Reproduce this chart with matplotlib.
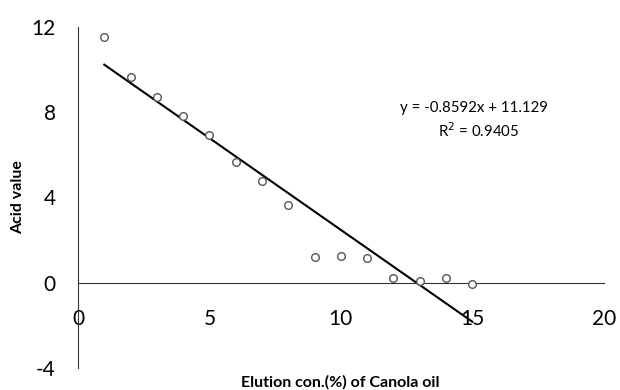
import numpy as np
import matplotlib
matplotlib.use('Agg')
import matplotlib.pyplot as plt

plt.rcParams['font.family'] = ['Lato', 'DejaVu Sans']
plt.rcParams['axes.unicode_minus'] = False

# Concentration d'elution et indice d'acide
conc = [1, 2, 3, 4, 5, 6, 7, 8, 9, 10, 11, 12, 13, 14, 15]
acid = [11.55, 9.67, 8.73, 7.84, 6.95, 5.68, 4.79, 3.66, 1.22, 1.27, 1.17, 0.23, 0.09, 0.23, -0.05]

xticks = [0, 5, 10, 15, 20]
yticks = [-4, 0, 4, 8, 12]

fig = plt.figure(figsize=(6.2, 3.9), dpi=100)
ax = fig.add_axes([0.1258, 0.0564, 0.848, 0.8744])

ax.plot(conc, acid, 'o', mfc='white', mec='#555555', ms=5.5, mew=1.0, zorder=3)

# Droite de tendance (moindres carres)
a, b = np.polyfit(conc, acid, 1)
xl = np.array([conc[0], conc[-1]])
ax.plot(xl, a*xl + b, 'k-', lw=1.5, zorder=2)

ax.text(15.05, 8.2, 'y = -0.8592x + 11.129', ha='center', va='center', fontsize=10.8)
ax.text(15.25, 7.15, 'R$^2$ = 0.9405', ha='center', va='center', fontsize=10.8)

ax.set_xlim(0, 20)
ax.set_ylim(-4, 12)
ax.set_xticks(xticks)
ax.set_yticks(yticks)
ax.spines['top'].set_visible(False)
ax.spines['right'].set_visible(False)
ax.spines['bottom'].set_position(('data', 0))
ax.spines['left'].set_color('#333333')
ax.spines['bottom'].set_color('#333333')
ax.tick_params(axis='both', length=0, labelsize=15)
ax.tick_params(axis='x', pad=19)
ax.tick_params(axis='y', pad=16)

ax.set_ylabel('Acid value', fontsize=11.5, fontweight='bold')
ax.yaxis.set_label_coords(-0.101, 0.5)
fig.text(0.548, 0.02, 'Elution con.(%) of Canola oil', ha='center', va='center',
         fontsize=11.5, fontweight='bold')

plt.savefig('out.png', dpi=100)
